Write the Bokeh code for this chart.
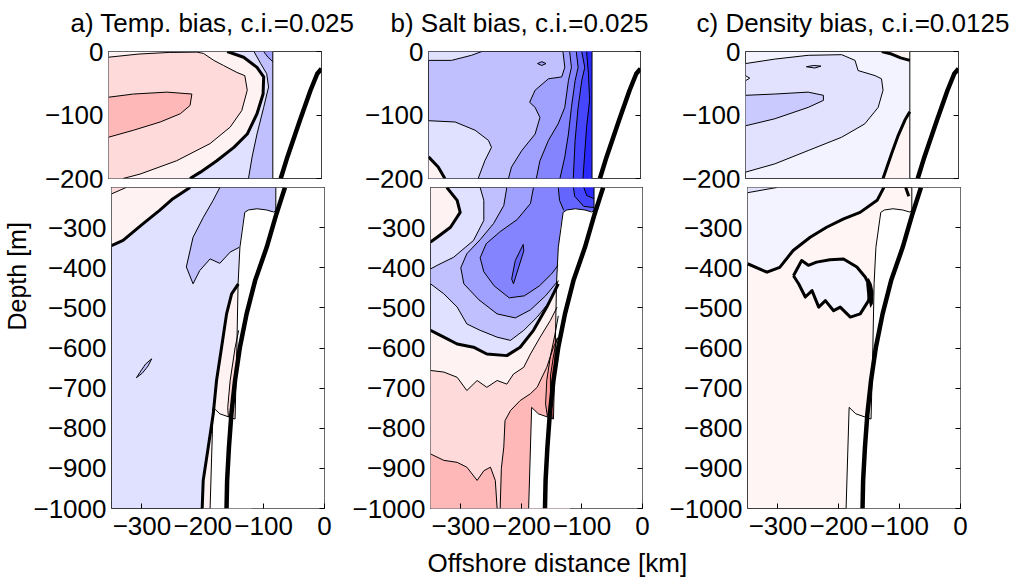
import math
from bokeh.plotting import figure
from bokeh.layouts import row, column
from bokeh.models import LinearAxis, FixedTicker, Title
from bokeh.embed import file_html
from bokeh.resources import INLINE

FONT = "Liberation Sans"
FS = "26px"
MINUS = "\u2212"

# ---------------- axes / text ----------------
x_ticks = [-300, -200, -100, 0]
upper_ticks = [0, -100, -200]
lower_ticks = [-300, -400, -500, -600, -700, -800, -900, -1000]
X_LIM = (-350, 0)
UP_LIM = (-200, 0)
LO_LIM = (-1000, -200)
titles = ["a) Temp. bias, c.i.=0.025", "b) Salt bias, c.i.=0.025", "c) Density bias, c.i.=0.0125"]
x_label = "Offshore distance [km]"
y_label = "Depth [m]"

# ---------------- colours ----------------
B1, B2, B3, B4, B5, B6, B7 = "#E0E0FF", "#C0C0FF", "#A0A0FF", "#8484FF", "#6464FF", "#4646FF", "#2A2AFF"
R1, R2, R3, R4, R5 = "#FFF2F2", "#FFDADA", "#FFB8B8", "#FF9A9A", "#FF7A7A"
C0, C1, C2, CR = "#F3F3FF", "#E2E2FF", "#CACAFF", "#FFF5F5"

# ---------------- shared geometry (km, m) ----------------
shelf_x = -80
bathy_up_x = [0, -7, -18, -35, -56, -67]
bathy_up_z = [-27, -35, -61, -107, -166, -200]
bathy_lo_x = [-65, -79, -95, -114, -128, -139, -147, -153, -157, -160, -161]
bathy_lo_z = [-200, -266, -349, -432, -515, -598, -681, -764, -847, -930, -1000]
edge_x = [-80, -80, -84, -95, -111, -125, -131, -139, -142, -144, -147, -153, -172, -183, -188]
edge_z = [-200, -258, -261, -256, -253, -256, -262, -349, -440, -598, -777, -774, -764, -748, -1000]

# ---------------- panel a: temperature ----------------
a_up_zero_x = [-155, -128, -106, -95, -96, -106, -122, -144, -172, -199, -216]
a_up_zero_z = [0, -9, -25, -40, -67, -98, -130, -151, -172, -190, -200]
a_up_p1_x = [-350, -300, -250, -205, -194, -177, -161, -139, -126, -122, -131, -150, -183, -238, -298, -326]
a_up_p1_z = [-9, -4, -1.5, -1, -3, -14, -22, -33, -38, -61, -93, -119, -145, -172, -193, -200]
a_up_p2_x = [-350, -309, -254, -213, -216, -232, -265, -309, -350]
a_up_p2_z = [-72, -67, -64, -67, -85, -98, -111, -124, -135]
a_up_n1_x = [-111, -100, -90, -87, -95, -106, -114, -120]
a_up_n1_z = [0, -19, -35, -56, -88, -130, -166, -200]
a_up_n2_x = [-95, -88, -80]
a_up_n2_z = [0, -9, -16]

a_lo_zero1_x = [-221, -249, -271, -298, -331, -350]
a_lo_zero1_z = [-200, -228, -257, -290, -332, -345]
a_lo_p1_x = [-326, -350]
a_lo_p1_z = [-200, -216]
a_lo_n1_x = [-172, -183, -199, -216, -227, -216, -205, -188, -172, -155, -140]
a_lo_n1_z = [-200, -232, -274, -324, -398, -440, -407, -378, -389, -361, -349]
a_lo_zero2_x = [-141.6, -152.6, -160.9, -169.1, -177.4, -182.8, -191, -199.3, -201]
a_lo_zero2_z = [-440, -465, -515, -598, -681, -764, -847, -930, -1000]
a_lo_p2_x = [-141, -147, -155, -159, -158]
a_lo_p2_z = [-556, -600, -681, -748, -772]
a_lo_n2_x = [-284, -290, -299, -309, -303, -294, -284]
a_lo_n2_z = [-627, -645, -662, -674, -660, -640, -627]

# ---------------- panel b: salinity ----------------
b_up_n0_x = [-350, -312, -279, -262]
b_up_n0_z = [-14, -14, -6, 0]
b_up_n1_x = [-350, -306, -273, -251, -246, -257, -268]
b_up_n1_z = [-109, -111, -124, -140, -151, -172, -200]
b_up_zero_x = [-350, -334, -323]
b_up_zero_z = [-166, -182, -200]
b_up_n2_x = [-128, -125, -130, -152, -174, -183, -174, -166, -174, -196, -213, -218]
b_up_n2_z = [0, -25, -40, -43, -61, -80, -88, -104, -130, -156, -182, -200]
b_up_n3_x = [-117, -114, -119, -125, -136, -152, -166, -172]
b_up_n3_z = [0, -25, -46, -88, -114, -140, -172, -200]
b_up_n4_x = [-106, -103, -108, -114, -119, -125, -133]
b_up_n4_z = [0, -25, -46, -88, -130, -166, -200]
b_up_n5_x = [-97, -92, -97, -103, -108, -111]
b_up_n5_z = [0, -25, -46, -88, -140, -200]
b_up_n6_x = [-89, -86, -84, -89, -95]
b_up_n6_z = [0, -35, -77, -119, -200]
b_up_loop_x = [-170, -163, -156, -163, -170]
b_up_loop_z = [-19, -16, -19, -22, -19]

b_lo_zero1_x = [-323, -306, -301, -317, -339, -350]
b_lo_zero1_z = [-200, -232, -262, -299, -324, -336]
b_lo_n1a_x = [-268, -262, -262, -279, -312, -339, -350]
b_lo_n1a_z = [-200, -232, -282, -332, -374, -394, -403]
b_lo_n1b_x = [-350, -328, -306, -290, -268, -240, -218, -196, -174, -152, -139]
b_lo_n1b_z = [-440, -465, -498, -540, -556, -573, -581, -556, -523, -482, -432]
b_lo_n2_x = [-224, -229, -246, -268, -290, -300, -295, -270, -240, -210, -185, -160, -141]
b_lo_n2_z = [-200, -245, -290, -330, -365, -400, -440, -480, -515, -525, -505, -470, -435]
b_lo_n3_x = [-180, -185, -207, -235, -258, -268, -262, -245, -220, -195, -170, -150, -140]
b_lo_n3_z = [-200, -240, -280, -310, -340, -375, -410, -445, -475, -470, -445, -415, -395]
b_lo_n4_x = [-139, -137, -130]
b_lo_n4_z = [-200, -232, -257]
b_lo_n5_x = [-114, -112, -97, -80]
b_lo_n5_z = [-200, -222, -247, -250]
b_lo_n6_x = [-97, -92, -80]
b_lo_n6_z = [-200, -220, -228]
b_lo_dia_x = [-197, -196, -213, -216, -210, -197]
b_lo_dia_z = [-342, -358, -440, -428, -382, -342]
b_lo_zero2_x = [-350, -328, -306, -279, -257, -224, -202, -180, -158, -139]
b_lo_zero2_z = [-556, -573, -590, -598, -615, -619, -598, -556, -498, -440]
b_lo_p1_x = [-350, -328, -306, -290, -273, -257, -240, -224, -213, -196, -185, -169, -152, -141]
b_lo_p1_z = [-656, -660, -673, -706, -681, -698, -681, -690, -665, -648, -615, -573, -531, -498]
b_lo_p2_x = [-350, -328, -306, -290, -273, -262, -251, -243, -240]
b_lo_p2_z = [-864, -880, -885, -897, -930, -906, -897, -930, -1000]
b_lo_p3_x = [-235, -233, -229, -227, -218, -202, -185, -174, -158, -147, -139]
b_lo_p3_z = [-1000, -900, -847, -781, -756, -731, -714, -698, -648, -598, -573]
b_lo_p4_x = [-139, -145, -152, -158, -160, -157]
b_lo_p4_z = [-520, -570, -620, -680, -740, -770]
b_lo_p5_x = [-141, -147, -152, -152, -149]
b_lo_p5_z = [-575, -620, -670, -720, -775]

# ---------------- panel c: density ----------------
c_up_n1_x = [-350, -302, -247, -192, -170, -165, -137, -126.5, -124, -132, -154, -192, -247, -302, -350]
c_up_n1_z = [-19, -12, -6, -5, -14, -30, -38, -43, -61, -88, -114, -135, -156, -177, -190]
c_up_n2_x = [-350, -302, -247, -222, -222, -247, -302, -350]
c_up_n2_z = [-69, -67, -64, -69, -77, -88, -106, -117]
c_up_blob_x = [-250, -238, -226, -236, -250]
c_up_blob_z = [-24, -22, -23, -26, -24]
c_up_notch_x = [-350, -343, -350]
c_up_notch_z = [-38, -42, -46]
c_up_zero1_x = [-80, -88, -99, -110, -124]
c_up_zero1_z = [-95, -108, -132, -161, -200]
c_up_zero2_x = [-126, -110, -95, -80]
c_up_zero2_z = [0, -4, -10, -14]

c_lo_zero1_x = [-126, -137, -165, -192, -220, -247, -275, -297, -318, -350]
c_lo_zero1_z = [-200, -232, -262, -278, -299, -324, -357, -399, -411, -390]
c_lo_n1_x = [-302, -350]
c_lo_n1_z = [-200, -213]
c_lo_blob_x = [-274.5, -261, -250, -236.5, -214.6, -192.2, -170.3, -156.6, -148.4, -151.1,
               -164.8, -181, -197.6, -208.5, -222, -233, -244, -255, -266, -274.5]
c_lo_blob_z = [-420, -382, -394, -386, -380, -378, -398, -423, -448, -482,
               -515, -523, -498, -507, -482, -498, -457, -473, -440, -420]
c_lo_knot_x = [-151, -146, -143, -144, -148, -153, -155]
c_lo_knot_z = [-425, -440, -460, -490, -500, -470, -440]
c_lo_frag_x = [-90, -85]
c_lo_frag_z = [-200, -222]

# ---------------- construction ----------------
UP_BOX = ([-350, shelf_x, shelf_x, -350], [0, 0, -200, -200])
LO_BOX = ([-350, 0, 0, -350], [-200, -200, -1000, -1000])
BND = ([-136, -131, -80, -80], [-300, -262, -258, -200])

panels = {
    "a_up": [
        (UP_BOX[0], UP_BOX[1], [], [], B1, 0),
        (a_up_zero_x, a_up_zero_z, [-350, -350], [-200, 0], R1, 3),
        (a_up_p1_x, a_up_p1_z, [-350], [-200], R2, 1),
        (a_up_p2_x, a_up_p2_z, [], [], R3, 1),
        (a_up_n1_x, a_up_n1_z, [-80, -80], [-200, 0], B2, 1),
        (a_up_n2_x, a_up_n2_z, [-80], [0], B3, 1),
    ],
    "a_lo": [
        (LO_BOX[0], LO_BOX[1], [], [], B1, 0),
        (a_lo_zero1_x, a_lo_zero1_z, [-350], [-200], R1, 3),
        (a_lo_p1_x, a_lo_p1_z, [-350], [-200], R2, 1),
        (a_lo_n1_x, a_lo_n1_z, BND[0], BND[1], B2, 1),
        (a_lo_zero2_x, a_lo_zero2_z, [-120, -120], [-1000, -440], R1, 3),
        (a_lo_p2_x, a_lo_p2_z, [-130, -130], [-772, -556], R2, 1),
        (a_lo_n2_x, a_lo_n2_z, [], [], B2, 1),
    ],
    "b_up": [
        (UP_BOX[0], UP_BOX[1], [], [], B2, 0),
        (b_up_n0_x, b_up_n0_z, [-350], [0], B1, 1),
        (b_up_n1_x, b_up_n1_z, [-350], [-200], B1, 1),
        (b_up_zero_x, b_up_zero_z, [-350], [-200], R1, 3),
        (b_up_n2_x, b_up_n2_z, [-80, -80], [-200, 0], B3, 1),
        (b_up_n3_x, b_up_n3_z, [-80, -80], [-200, 0], B4, 1),
        (b_up_n4_x, b_up_n4_z, [-80, -80], [-200, 0], B5, 1),
        (b_up_n5_x, b_up_n5_z, [-80, -80], [-200, 0], B6, 1),
        (b_up_n6_x, b_up_n6_z, [-80, -80], [-200, 0], B7, 1),
        (b_up_loop_x, b_up_loop_z, [], [], B3, 1),
    ],
    "b_lo": [
        (LO_BOX[0], LO_BOX[1], [], [], B1, 0),
        (b_lo_zero1_x, b_lo_zero1_z, [-350], [-200], R1, 3),
        (b_lo_n1a_x, b_lo_n1a_z, b_lo_n1b_x + BND[0], b_lo_n1b_z + BND[1], B2, 1),
        (b_lo_n1b_x, b_lo_n1b_z, [], [], None, 1),
        (b_lo_n2_x, b_lo_n2_z, BND[0], BND[1], B3, 1),
        (b_lo_n3_x, b_lo_n3_z, BND[0], BND[1], B4, 1),
        (b_lo_n4_x, b_lo_n4_z, [-80, -80], [-258, -200], B5, 1),
        (b_lo_n5_x, b_lo_n5_z, [-80], [-200], B6, 1),
        (b_lo_n6_x, b_lo_n6_z, [-80], [-200], B7, 1),
        (b_lo_dia_x, b_lo_dia_z, [], [], B5, 1),
        (b_lo_zero2_x, b_lo_zero2_z, [-120, -120, -350], [-440, -1000, -1000], R1, 3),
        (b_lo_p1_x, b_lo_p1_z, [-120, -120, -350], [-498, -1000, -1000], R2, 1),
        (b_lo_p2_x, b_lo_p2_z, [-350], [-1000], R3, 1),
        (b_lo_p3_x, b_lo_p3_z, [-120, -120], [-573, -1000], R3, 1),
        (b_lo_p4_x, b_lo_p4_z, [-130, -130], [-770, -520], R4, 1),
        (b_lo_p5_x, b_lo_p5_z, [-130, -130], [-775, -575], R5, 1),
    ],
    "c_up": [
        (UP_BOX[0], UP_BOX[1], [], [], C0, 0),
        (c_up_n1_x, c_up_n1_z, [], [], C1, 1),
        (c_up_n2_x, c_up_n2_z, [], [], C2, 1),
        (c_up_blob_x, c_up_blob_z, [], [], C2, 1),
        (c_up_notch_x, c_up_notch_z, [], [], C0, 1),
        (c_up_zero1_x, c_up_zero1_z, [-80], [-200], CR, 3),
        (c_up_zero2_x, c_up_zero2_z, [-80], [0], CR, 3),
    ],
    "c_lo": [
        (LO_BOX[0], LO_BOX[1], [], [], CR, 0),
        (c_lo_zero1_x, c_lo_zero1_z, [-350], [-200], C0, 3),
        (c_lo_n1_x, c_lo_n1_z, [-350], [-200], C1, 1),
        (c_lo_blob_x, c_lo_blob_z, [], [], C0, 3),
        (c_lo_knot_x, c_lo_knot_z, [], [], "black", 0),
        (c_lo_frag_x, c_lo_frag_z, [], [], None, 3),
    ],
}


def tick_text(v):
    return (MINUS + str(-v)) if v < 0 else str(v)


def style_axis(ax, ticks, show_labels=True, tick_len=0):
    ax.ticker = FixedTicker(ticks=ticks)
    ax.major_label_overrides = {t: (tick_text(t) if show_labels else "") for t in ticks}
    ax.major_tick_in = tick_len
    ax.major_tick_out = 0
    ax.minor_tick_line_color = None
    ax.axis_line_color = None
    ax.major_tick_line_color = "black" if tick_len else None
    ax.major_label_text_font = FONT
    ax.major_label_text_font_size = FS if show_labels else "1px"
    ax.major_label_text_color = "black"


def style_title(t, text, offset, valign, standoff, size):
    t.text = text
    t.align = "left"
    t.offset = offset
    t.vertical_align = valign
    t.standoff = standoff
    t.text_font = FONT
    t.text_font_size = size
    t.text_font_style = "normal"
    t.text_color = "black"


def make_fig(ylim, yticks, fw, fh, border, with_x):
    bl, br, bt, bb = border
    p = figure(width=bl + fw + br, height=bt + fh + bb, frame_width=fw, frame_height=fh,
               x_range=X_LIM, y_range=ylim, output_backend="svg", toolbar_location=None,
               x_axis_location="below" if with_x else None, y_axis_location="left",
               min_border_left=bl, min_border_right=br, min_border_top=bt, min_border_bottom=bb)
    p.xgrid.visible = False
    p.ygrid.visible = False
    p.outline_line_color = "black"
    p.outline_line_width = 1
    p.background_fill_color = "white"
    p.border_fill_color = "white"
    style_axis(p.yaxis[0], yticks)
    p.yaxis[0].major_label_standoff = 5
    if with_x:
        style_axis(p.xaxis[0], x_ticks, True, 5)
        p.xaxis[0].major_label_standoff = 8
    r = LinearAxis()
    style_axis(r, yticks, False, 5)
    r.major_label_standoff = 0
    p.add_layout(r, "right")
    return p


def draw(p, layers, upper):
    for px_, pz_, cx_, cz_, col, lw in layers:
        if col is not None:
            p.patch(list(px_) + list(cx_), list(pz_) + list(cz_), fill_color=col, line_color=None)
    if upper:
        p.patch([shelf_x, 0, 0, shelf_x], [0, 0, -200, -200], fill_color="white", line_color=None)
    else:
        p.patch(edge_x + [0, 0], edge_z + [-1000, -200], fill_color="white", line_color=None)
    for px_, pz_, cx_, cz_, col, lw in layers:
        if lw > 0:
            p.line(px_, pz_, line_color="black", line_width=lw, line_join="round")
    if upper:
        p.line([shelf_x, shelf_x], [0, -200], line_color="black", line_width=1)
        p.line(bathy_up_x, bathy_up_z, line_color="black", line_width=4.5, line_join="round")
    else:
        p.line(edge_x, edge_z, line_color="black", line_width=1)
        p.line(bathy_lo_x, bathy_lo_z, line_color="black", line_width=4.5, line_join="round")


# frame geometry (pixels): frames a 108-321, b 427-639, c 744-957; rows 51-178 and 187-508
FW = [213, 212, 213]
UP_BORDER = [(108, 40, 61, 24), (66, 20, 61, 24), (85, 61, 61, 24)]
LO_BORDER = [(108, 10, 0, 37), (96, 10, 0, 37), (95, 61, 0, 37)]
TITLE_OFFSET = [-38, -38, -49]
keys = ["a", "b", "c"]
tops, bots = [], []
for i, k in enumerate(keys):
    pu = make_fig(UP_LIM, upper_ticks, FW[i], 127, UP_BORDER[i], False)
    draw(pu, panels[k + "_up"], True)
    style_title(pu.title, titles[i], TITLE_OFFSET[i], "top", 24, FS)
    pl = make_fig(LO_LIM, lower_ticks, FW[i], 321, LO_BORDER[i], True)
    draw(pl, panels[k + "_lo"], False)
    tops.append(pu)
    bots.append(pl)

t_y = Title()
style_title(t_y, y_label, 178, "bottom", 0, "25px")
bots[0].add_layout(t_y, "left")

# strip under the panels that carries the shared x-axis label
label_strip = figure(width=1018, height=32, frame_width=212, frame_height=1,
                     x_range=X_LIM, y_range=(0, 1), output_backend="svg", toolbar_location=None,
                     x_axis_location=None, y_axis_location=None,
                     min_border_left=427, min_border_right=379, min_border_top=31, min_border_bottom=0)
label_strip.outline_line_color = None
label_strip.xgrid.visible = False
label_strip.ygrid.visible = False
label_strip.background_fill_color = "white"
label_strip.border_fill_color = "white"
style_title(label_strip.title, x_label, 0, "bottom", 0, FS)

top_row = row(*tops, margin=(-10, 0, 0, 0))
bottom_row = row(*bots, margin=(-15, 0, 0, 0))
layout = column(top_row, bottom_row, label_strip)
open("out.html", "w").write(file_html(layout, INLINE))
